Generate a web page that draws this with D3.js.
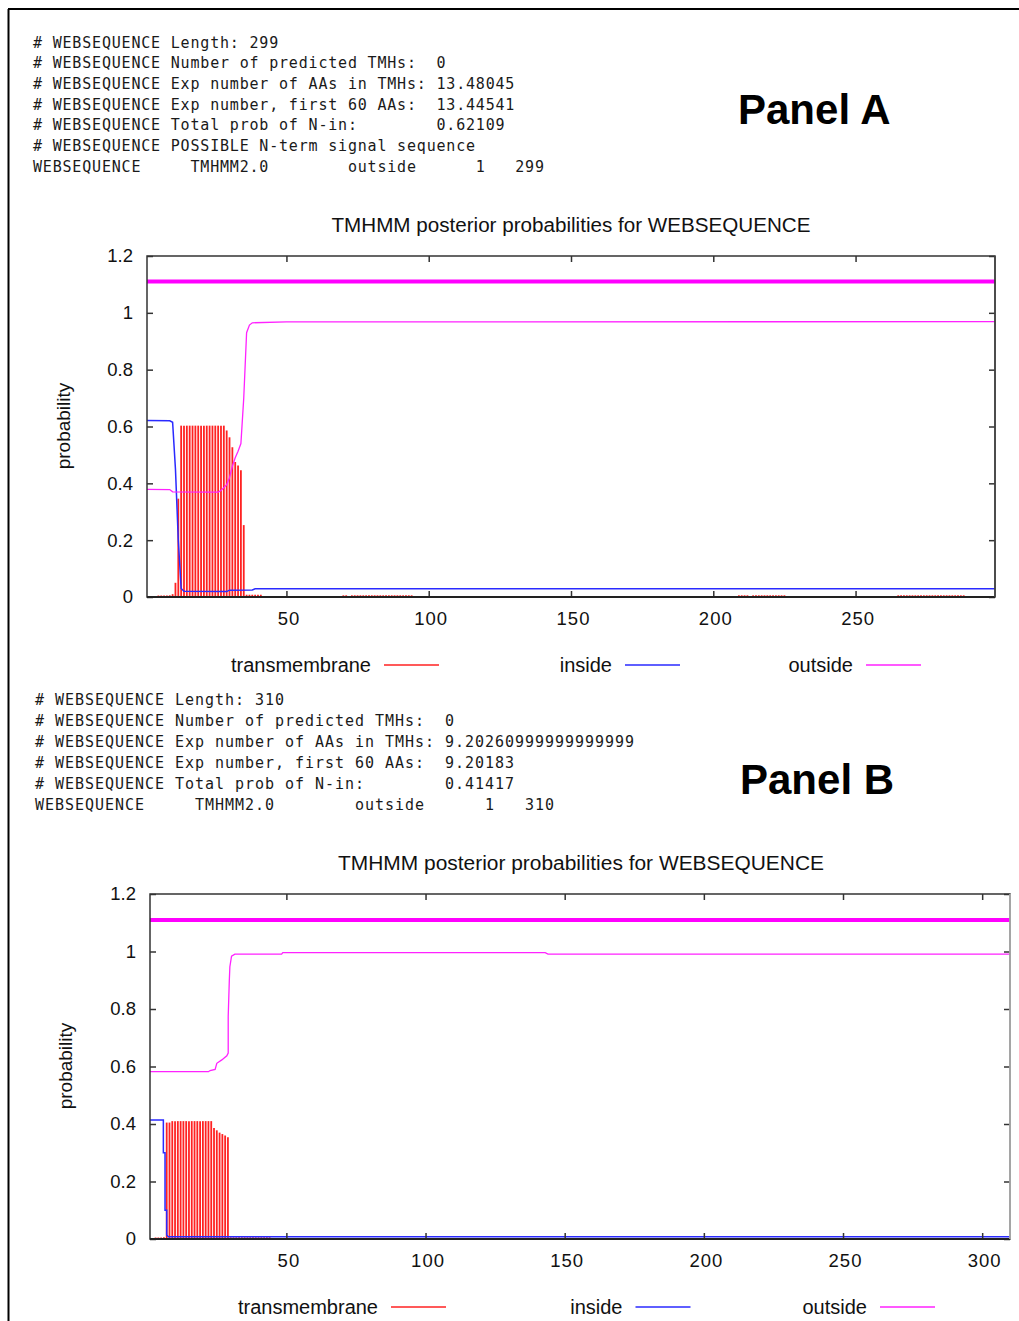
<!DOCTYPE html>
<html>
<head>
<meta charset="utf-8">
<script src="https://cdn.jsdelivr.net/npm/d3@7"></script>
<style>
body { margin: 0; background: #fff; }
svg text { font-family: "Liberation Sans", Arial, sans-serif; fill: #111; }
.mono { font-family: "DejaVu Sans Mono", monospace; font-size: 15px; white-space: pre; fill: #1a1a1a; }
</style>
</head>
<body>
<svg id="fig" width="1019" height="1321"></svg>
<script>
// ---- data ----
var yTicks = [0, 0.2, 0.4, 0.6, 0.8, 1, 1.2];
var xTicksA = [50, 100, 150, 200, 250];
var xTicksB = [50, 100, 150, 200, 250, 300];
var legendLabels = ["transmembrane", "inside", "outside"];
var titleText = "TMHMM posterior probabilities for WEBSEQUENCE";
var topologyLevel = 1.11;   // thick "outside" topology line

var headerA = [
    "# WEBSEQUENCE Length: 299",
    "# WEBSEQUENCE Number of predicted TMHs:  0",
    "# WEBSEQUENCE Exp number of AAs in TMHs: 13.48045",
    "# WEBSEQUENCE Exp number, first 60 AAs:  13.44541",
    "# WEBSEQUENCE Total prob of N-in:        0.62109",
    "# WEBSEQUENCE POSSIBLE N-term signal sequence",
    "WEBSEQUENCE     TMHMM2.0        outside      1   299"
];
var headerB = [
    "# WEBSEQUENCE Length: 310",
    "# WEBSEQUENCE Number of predicted TMHs:  0",
    "# WEBSEQUENCE Exp number of AAs in TMHs: 9.20260999999999999",
    "# WEBSEQUENCE Exp number, first 60 AAs:  9.20183",
    "# WEBSEQUENCE Total prob of N-in:        0.41417",
    "WEBSEQUENCE     TMHMM2.0        outside      1   310"
];

// transmembrane probability per residue [residue, prob]
var tmA = [[5,0.004],[6,0.004],[7,0.004],[8,0.004],[9,0.006],[10,0.01],[11,0.05],[12,0.346],
    [13,0.603],[14,0.603],[15,0.603],[16,0.603],[17,0.603],[18,0.603],[19,0.603],[20,0.603],
    [21,0.603],[22,0.603],[23,0.603],[24,0.603],[25,0.603],[26,0.603],[27,0.603],[28,0.603],
    [29,0.586],[30,0.562],[31,0.527],[32,0.475],[33,0.463],[34,0.446],[35,0.253]];
// low-level runs [from, to, prob]
var tmLowA = [[36,41,0.008],[70,71,0.006],[73,87,0.006],[88,94,0.006],
    [209,212,0.006],[214,225,0.006],[265,277,0.006],[278,288,0.006]];
var insideA = [[1,0.621],[9,0.620],[10,0.615],[11,0.45],[12,0.2],[13,0.03],[14,0.02],
    [29,0.019],[30,0.024],[38,0.025],[39,0.029],[299,0.029]];
var outsideA = [[1,0.379],[9,0.378],[10,0.370],[26,0.369],[27,0.375],[28,0.385],[29,0.395],
    [30,0.42],[31,0.46],[32,0.49],[33,0.513],[34,0.54],[35,0.70],[36,0.93],[37,0.957],
    [38,0.965],[50,0.968],[299,0.969]];

var tmB = [[3,0.004],[4,0.004],[5,0.005],[6,0.006],[7,0.405],[8,0.405],
    [9,0.41],[10,0.41],[11,0.41],[12,0.41],[13,0.41],[14,0.41],[15,0.41],[16,0.41],
    [17,0.41],[18,0.41],[19,0.41],[20,0.41],[21,0.41],[22,0.41],[23,0.41],
    [24,0.386],[25,0.378],[26,0.37],[27,0.365],[28,0.36],[29,0.354]];
var tmLowB = [[30,44,0.006]];
var insideB = [[1,0.414],[5.8,0.414],[5.8,0.30],[6.4,0.30],[6.4,0.10],[7.0,0.10],[7.0,0.014],
    [7.6,0.008],[310,0.008]];
var outsideB = [[1,0.582],[22,0.582],[22.6,0.586],[24.4,0.59],[25,0.611],[26.8,0.623],
    [28.6,0.637],[29.1,0.647],[29.1,0.773],[29.5,0.90],[29.7,0.947],[30.3,0.984],[31.5,0.991],
    [48.3,0.991],[48.7,0.996],[143,0.996],[144,0.991],[310,0.991]];

var svg = d3.select('#fig');

// page frame (top and left only, rest is cropped)
svg.append('line').attr('x1', 8).attr('y1', 9).attr('x2', 1019).attr('y2', 9)
    .attr('stroke', '#000').attr('stroke-width', 2);
svg.append('line').attr('x1', 8.5).attr('y1', 9).attr('x2', 8.5).attr('y2', 1321)
    .attr('stroke', '#000').attr('stroke-width', 2);

function drawPanel(p) {
    var g = svg.append('g');
    var x = d3.scaleLinear().domain([1, p.n]).range([p.left, p.right]);
    var y = d3.scaleLinear().domain([0, 1.2]).range([p.bottom, p.top]);

    // text output above the plot
    p.header.forEach(function(line, i) {
        g.append('text')
            .attr('class', 'mono')
            .attr('xml:space', 'preserve')
            .attr('x', p.textX)
            .attr('y', p.textY + i * p.textStep)
            .style('letter-spacing', p.ls + 'px')
            .text(line);
    });
    g.append('text')
        .attr('x', p.tagX).attr('y', p.tagY)
        .style('font-size', '42px').style('font-weight', 'bold').style('fill', '#000')
        .text(p.tag);

    g.append('text')
        .attr('x', p.titleX).attr('y', p.titleY)
        .attr('text-anchor', 'middle')
        .attr('textLength', p.titleW).attr('lengthAdjust', 'spacingAndGlyphs')
        .style('font-size', '20px')
        .text(titleText);

    // impulses
    var bars = p.tm.slice();
    p.tmLow.forEach(function(r) {
        for (var i = r[0]; i <= r[1]; i++) bars.push([i, r[2]]);
    });
    g.selectAll('line.tm').data(bars).enter().append('line')
        .attr('class', 'tm')
        .attr('x1', function(d) { return x(d[0]); })
        .attr('x2', function(d) { return x(d[0]); })
        .attr('y1', y(0))
        .attr('y2', function(d) { return Math.min(y(d[1]), y(0) - 1.5); })
        .attr('stroke', '#ff2222')
        .attr('stroke-width', 1.8);

    var line = d3.line().x(function(d) { return x(d[0]); }).y(function(d) { return y(d[1]); });
    g.append('path').datum(p.inside).attr('d', line)
        .attr('fill', 'none').attr('stroke', '#2a2aff').attr('stroke-width', 1.5);
    g.append('path').datum(p.outside).attr('d', line)
        .attr('fill', 'none').attr('stroke', '#ff22ff').attr('stroke-width', 1.3);
    g.append('line')
        .attr('x1', x(1)).attr('x2', x(p.n))
        .attr('y1', y(topologyLevel)).attr('y2', y(topologyLevel))
        .attr('stroke', '#ff00ff').attr('stroke-width', 4);

    // axes with inward ticks on all sides
    var axL = g.append('g').attr('transform', 'translate(' + p.left + ',0)')
        .call(d3.axisLeft(y).tickValues(yTicks).tickSizeInner(-6).tickSizeOuter(0).tickPadding(14)
            .tickFormat(d3.format('~g')));
    var axB = g.append('g').attr('transform', 'translate(0,' + p.bottom + ')')
        .call(d3.axisBottom(x).tickValues(p.xTicks).tickSizeInner(-6).tickSizeOuter(0).tickPadding(15));
    var axR = g.append('g').attr('transform', 'translate(' + p.right + ',0)')
        .call(d3.axisRight(y).tickValues(yTicks).tickSizeInner(-6).tickSizeOuter(0).tickFormat(''));
    var axT = g.append('g').attr('transform', 'translate(0,' + p.top + ')')
        .call(d3.axisTop(x).tickValues(p.xTicks).tickSizeInner(-6).tickSizeOuter(0).tickFormat(''));
    [axL, axB, axR, axT].forEach(function(a) {
        a.select('.domain').remove();
        a.attr('color', '#333');
        a.selectAll('line').attr('stroke-width', 1.5);
        a.selectAll('text').style('font-size', '18.5px').style('fill', '#111')
            .style('font-family', '"Liberation Sans", Arial, sans-serif');
    });
    axB.selectAll('text').style('letter-spacing', '1px').attr('dx', '2');

    g.append('rect')
        .attr('x', p.left).attr('y', p.top)
        .attr('width', p.right - p.left).attr('height', p.bottom - p.top)
        .attr('fill', 'none').attr('stroke', '#333').attr('stroke-width', 1.5);
    g.append('line')
        .attr('x1', p.left).attr('x2', p.right).attr('y1', p.bottom).attr('y2', p.bottom)
        .attr('stroke', '#222').attr('stroke-width', 2);
    g.append('line')
        .attr('x1', p.right).attr('x2', p.right).attr('y1', p.top).attr('y2', p.bottom)
        .attr('stroke', p.rightColor).attr('stroke-width', 1.5);

    g.append('text')
        .attr('transform', 'translate(' + p.ylabX + ',' + p.ylabY + ') rotate(-90)')
        .attr('text-anchor', 'middle').attr('dy', '0.35em')
        .style('font-size', '19px')
        .text('probability');

    // legend
    var colors = ['#ff2222', '#2a2aff', '#ff22ff'];
    legendLabels.forEach(function(lab, i) {
        var lx = p.legX + i * p.legStep;
        g.append('text')
            .attr('x', lx - 13).attr('y', p.legY).attr('dy', '0.35em')
            .attr('text-anchor', 'end')
            .style('font-size', '20px')
            .text(lab);
        g.append('line')
            .attr('x1', lx).attr('x2', lx + 55).attr('y1', p.legY).attr('y2', p.legY)
            .attr('stroke', colors[i]).attr('stroke-width', 1.6);
    });
}

drawPanel({
    n: 299, tm: tmA, tmLow: tmLowA, inside: insideA, outside: outsideA, xTicks: xTicksA,
    header: headerA, textX: 33, textY: 47.5, textStep: 20.7, ls: 0.81,
    tag: 'Panel A', tagX: 738, tagY: 124,
    titleX: 571, titleY: 232, titleW: 479,
    left: 147, right: 995, top: 256, bottom: 597, rightColor: '#444',
    ylabX: 63, ylabY: 426,
    legX: 384, legStep: 241, legY: 665
});

drawPanel({
    n: 310, tm: tmB, tmLow: tmLowB, inside: insideB, outside: outsideB, xTicks: xTicksB,
    header: headerB, textX: 35, textY: 704.5, textStep: 21, ls: 0.97,
    tag: 'Panel B', tagX: 740, tagY: 794,
    titleX: 581, titleY: 870, titleW: 486,
    left: 150, right: 1010, top: 894, bottom: 1239, rightColor: '#bbb',
    ylabX: 65, ylabY: 1066,
    legX: 391, legStep: 244.5, legY: 1307
});
</script>
</body>
</html>
